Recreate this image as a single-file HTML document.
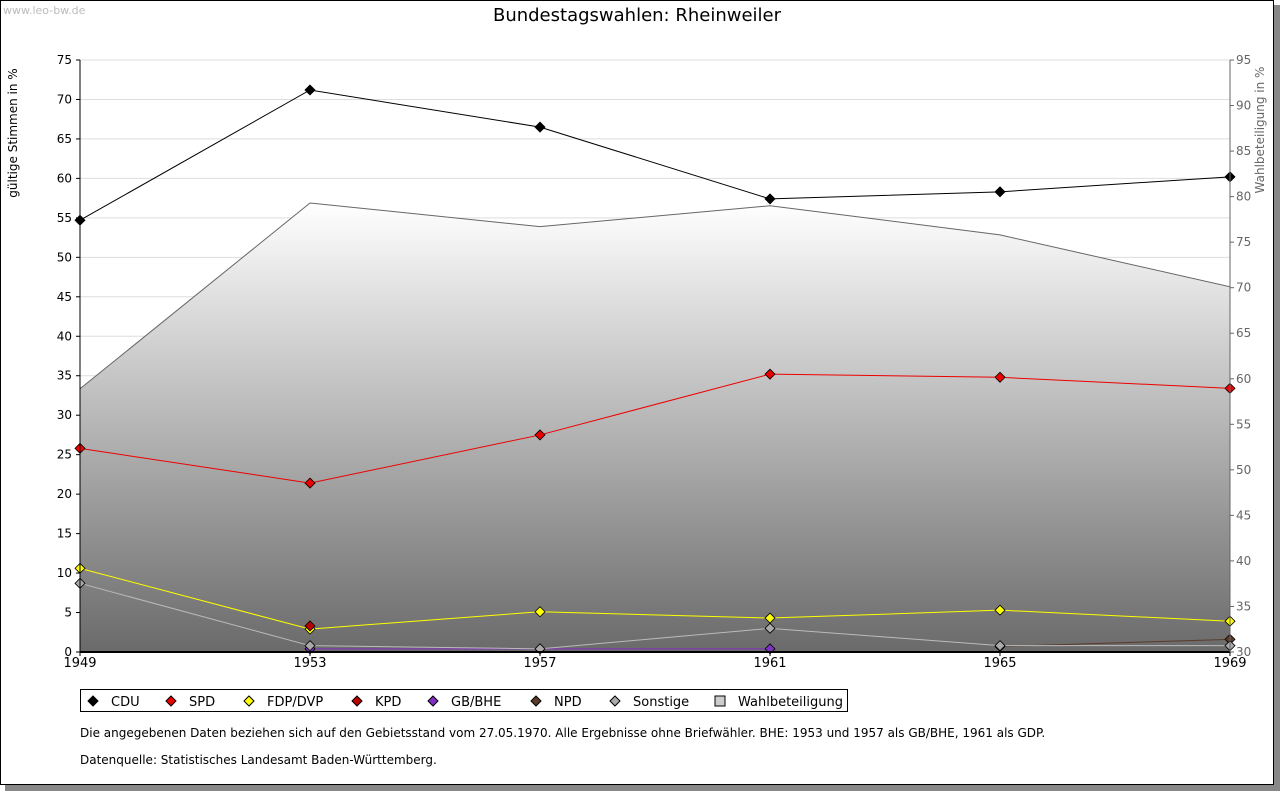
<!DOCTYPE html>
<html><head><meta charset="utf-8"><style>
body{margin:0;background:#fff;font-family:"Liberation Sans","DejaVu Sans",sans-serif}
svg text{font-family:"DejaVu Sans","Liberation Sans",sans-serif}
</style></head><body>
<svg id="c" width="1280" height="791" xmlns="http://www.w3.org/2000/svg">
<defs><linearGradient id="g" x1="0" y1="0" x2="0" y2="1"><stop offset="0" stop-color="#ffffff"/><stop offset="1" stop-color="#6a6a6a"/></linearGradient></defs>
<rect x="5" y="5" width="1275" height="786" fill="#888"/>
<rect x="0.5" y="0.5" width="1273" height="784" fill="#fff" stroke="#000"/>
<text x="3" y="14" font-size="11" fill="#bbb">www.leo-bw.de</text>
<text x="637" y="21" font-size="18" text-anchor="middle">Bundestagswahlen: Rheinweiler</text>
<g id="grid"></g><g id="area"></g><g id="lines"></g><g id="axes"></g>
<text transform="translate(17,133) rotate(-90)" font-size="12" text-anchor="middle">gültige Stimmen in %</text>
<text transform="translate(1264,130) rotate(-90)" font-size="12" fill="#666" text-anchor="middle">Wahlbeteiligung in %</text>
<g id="legend"><rect x="80.5" y="689.5" width="767" height="22" fill="#fff" stroke="#000"/></g>
<text x="80" y="737" font-size="12">Die angegebenen Daten beziehen sich auf den Gebietsstand vom 27.05.1970. Alle Ergebnisse ohne Briefwähler. BHE: 1953 und 1957 als GB/BHE, 1961 als GDP.</text>
<text x="80" y="764" font-size="12">Datenquelle: Statistisches Landesamt Baden-Württemberg.</text>
</svg>
<script>
const years=[1949,1953,1957,1961,1965,1969];
const cdu=[54.7,71.2,66.5,57.4,58.3,60.2];
const spd=[25.8,21.4,27.5,35.2,34.8,33.4];
const fdp=[10.6,2.9,5.1,4.3,5.3,3.9];
const kpd=[null,3.3,null,null,null,null];
const bhe=[null,0.4,0.4,0.4,null,null];
const npd=[null,null,null,null,0.7,1.6];
const sonst=[8.7,0.8,0.4,3.0,0.8,0.8];
const turnout=[58.9,79.3,76.7,79.0,75.8,70.1];
const yTicks=[0,5,10,15,20,25,30,35,40,45,50,55,60,65,70,75];
const y2Ticks=[30,35,40,45,50,55,60,65,70,75,80,85,90,95];
const NS='http://www.w3.org/2000/svg';
const X0=80,X1=1230,Y0=652,Y1=60;
const xs=y=>X0+(y-1949)/(1969-1949)*(X1-X0);
const ys=v=>Y0-v/75*(Y0-Y1);
const ys2=v=>Y0-(v-30)/65*(Y0-Y1);
function mk(p,t,a){const e=document.createElementNS(NS,t);for(const k in a)e.setAttribute(k,a[k]);p.appendChild(e);return e;}
const grid=document.getElementById('grid'),axes=document.getElementById('axes'),lines=document.getElementById('lines'),area=document.getElementById('area');
yTicks.forEach(t=>{const y=ys(t);
 const l=mk(grid,'line',{x1:X0,x2:X1,y1:y,y2:y,stroke:'#ddd'});
 
 const tx=mk(axes,'text',{x:72,y:y+4,'font-size':12,'text-anchor':'end'});tx.textContent=t;
 
 mk(axes,'line',{x1:X0-4,x2:X0,y1:y,y2:y,stroke:'#000'});});
y2Ticks.forEach(t=>{const y=ys2(t);
 const tx=mk(axes,'text',{x:1236,y:y+4,'font-size':12,fill:'#666'});tx.textContent=t;
 
 mk(axes,'line',{x1:X1,x2:X1+4,y1:y,y2:y,stroke:'#666'});});
years.forEach(yr=>{const x=xs(yr);
 const tx=mk(axes,'text',{x:x,y:667,'font-size':13,'text-anchor':'middle'});tx.textContent=yr;
 
 mk(axes,'line',{x1:x,x2:x,y1:Y0,y2:Y0+4,stroke:'#000'});});
let d='M'+X0+','+Y0+' '+years.map((yr,i)=>'L'+xs(yr)+','+ys2(turnout[i])).join(' ')+' L'+X1+','+Y0+'Z';
const ar=mk(area,'path',{d:d,fill:'url(#g)',stroke:'#666'});

mk(axes,'line',{x1:X0,x2:X0,y1:Y1,y2:Y0,stroke:'#000'});
mk(axes,'line',{x1:X0,x2:X1,y1:Y0,y2:Y0,stroke:'#000','stroke-width':2});
mk(axes,'line',{x1:X1,x2:X1,y1:Y1,y2:Y0,stroke:'#666'});
const series=[['cdu',cdu,'#000','#000'],['spd',spd,'#e00','#e00'],['fdp',fdp,'#ff0','#ff0'],['kpd',kpd,'#b00','#b00'],['gb-bhe',bhe,'#8030c0','#8030c0'],['npd',npd,'#5a3a28','#5a3a28'],['sonstige',sonst,'#bbb','#aaa']];
series.forEach(([n,v,c,f])=>{
 const pts=[];v.forEach((val,i)=>{if(val!=null)pts.push([xs(years[i]),ys(val)]);});
 if(pts.length>1){const pl=mk(lines,'polyline',{points:pts.map(p=>p.join(',')).join(' '),fill:'none',stroke:c});
  }
 pts.forEach(p=>{const m=mk(lines,'path',{d:`M${p[0]},${p[1]-5}L${p[0]+5},${p[1]}L${p[0]},${p[1]+5}L${p[0]-5},${p[1]}Z`,fill:f,stroke:'#000','stroke-width':0.8});
  });
});
const leg=[['CDU','#000',88],['SPD','#e00',166],['FDP/DVP','#ff0',244],['KPD','#b00',352],['GB/BHE','#8030c0',428],['NPD','#5a3a28',531],['Sonstige','#aaa',610],['Wahlbeteiligung','#ccc',715]];
const lg=document.getElementById('legend');
leg.forEach(([t,c,x],i)=>{const cy=701,cx=x+5;
 let m;if(i==7){m=mk(lg,'rect',{x:cx-5,y:cy-5,width:10,height:10,fill:c,stroke:'#000'});}
 else m=mk(lg,'path',{d:`M${cx},${cy-5}L${cx+5},${cy}L${cx},${cy+5}L${cx-5},${cy}Z`,fill:c,stroke:'#000'});
 
 const tx=mk(lg,'text',{x:x+23,y:cy+5,'font-size':13});tx.textContent=t;
 });
</script>
</body></html>
